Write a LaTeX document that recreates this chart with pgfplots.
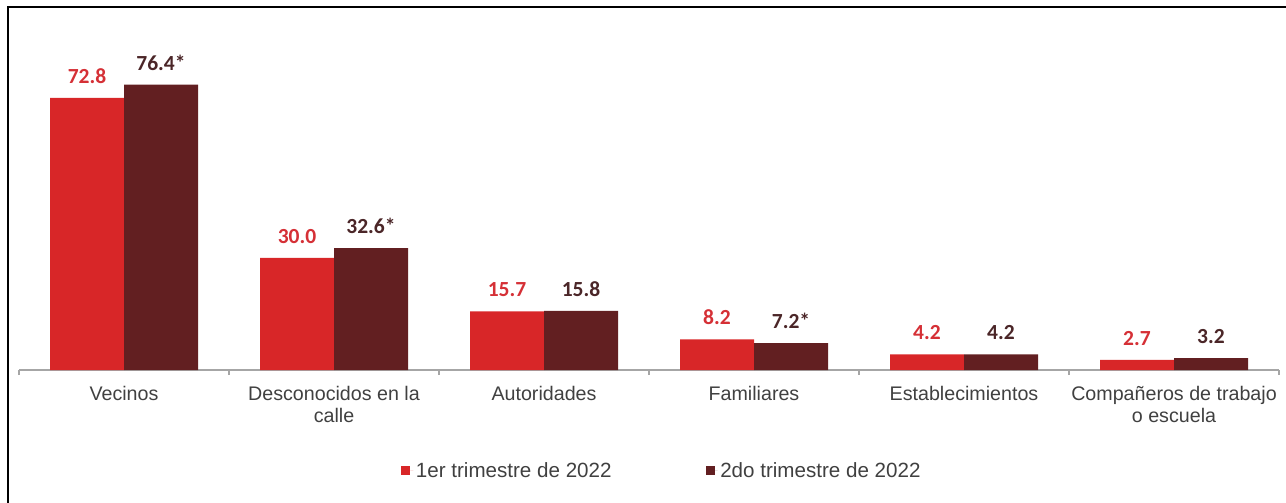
\documentclass[border=0pt]{standalone}
\usepackage{pgfplots}
\pgfplotsset{compat=1.18}
\usepackage{fontspec}
\setmainfont{Liberation Sans}
\newfontfamily\valfont{Carlito}

\definecolor{rojo}{HTML}{D82628}
\definecolor{vino}{HTML}{621F21}
\definecolor{rojotxt}{HTML}{D53036}
\definecolor{vinotxt}{HTML}{4B2628}
\definecolor{gristxt}{HTML}{404040}
\definecolor{eje}{HTML}{A6A6A6}

\begin{document}
\begin{tikzpicture}
% page = 1286 x 503 px at 0.75bp per px, axis origin at (19px, 370px)
\useasboundingbox (-14.25bp,-99.75bp) rectangle (950.25bp,277.5bp);
\draw[line width=1.5bp] (-8.25bp,-99.75bp) -- (-8.25bp,272.25bp) -- (950.25bp,272.25bp);
\begin{axis}[
    at={(0,0)}, anchor=south west,
    scale only axis,
    width=945bp, height=224.2bp,
    xmin=-0.5, xmax=5.5, ymin=0, ymax=80,
    clip=false,
    ybar=0pt, bar width=55.5bp,
    axis x line*=bottom, axis y line=none,
    x axis line style={draw=eje, line width=1.1bp, -},
    xtick={0,...,5}, major tick length=0pt,
    minor xtick={-0.5,0.5,...,5.5}, minor tick length=3.75bp,
    tick align=outside,
    minor tick style={draw=eje, line width=1bp},
    xticklabels={Vecinos,{Desconocidos en la\\calle},Autoridades,Familiares,Establecimientos,{Compañeros de trabajo\\o escuela}},
    xticklabel style={font=\fontsize{14.8}{16.3}\selectfont, text=gristxt, align=center, anchor=north, inner sep=0pt, yshift=-12.1bp},
    nodes near coords,
    point meta=explicit symbolic,
    every node near coord/.append style={font={\valfont\bfseries\fontsize{16.2}{19}\selectfont}, inner sep=0pt, yshift=10.5bp},
    legend style={at={(axis description cs:0.5105,-0.337)}, anchor=center, draw=none, fill=none,
        font=\fontsize{15.5}{17}\selectfont, text=gristxt, legend columns=2,
        /tikz/every even column/.append style={column sep=68.5bp}},
    legend image code/.code={\fill[#1] (0bp,-3.4bp) rectangle (6.75bp,3.4bp); \path (6.75bp,0bp) -- (9bp,0bp);},
]
\addplot[fill=rojo, draw=none, every node near coord/.append style={text=rojotxt}]
    coordinates {(0,72.8)[72.8] (1,30.0)[30.0] (2,15.7)[15.7] (3,8.2)[8.2] (4,4.2)[4.2] (5,2.7)[2.7]};
\addlegendentry{1er trimestre de 2022}
\addplot[fill=vino, draw=none, every node near coord/.append style={text=vinotxt}]
    coordinates {(0,76.4)[76.4*] (1,32.6)[32.6*] (2,15.8)[15.8] (3,7.2)[7.2*] (4,4.2)[4.2] (5,3.2)[3.2]};
\addlegendentry{2do trimestre de 2022}
\end{axis}
\end{tikzpicture}
\end{document}
